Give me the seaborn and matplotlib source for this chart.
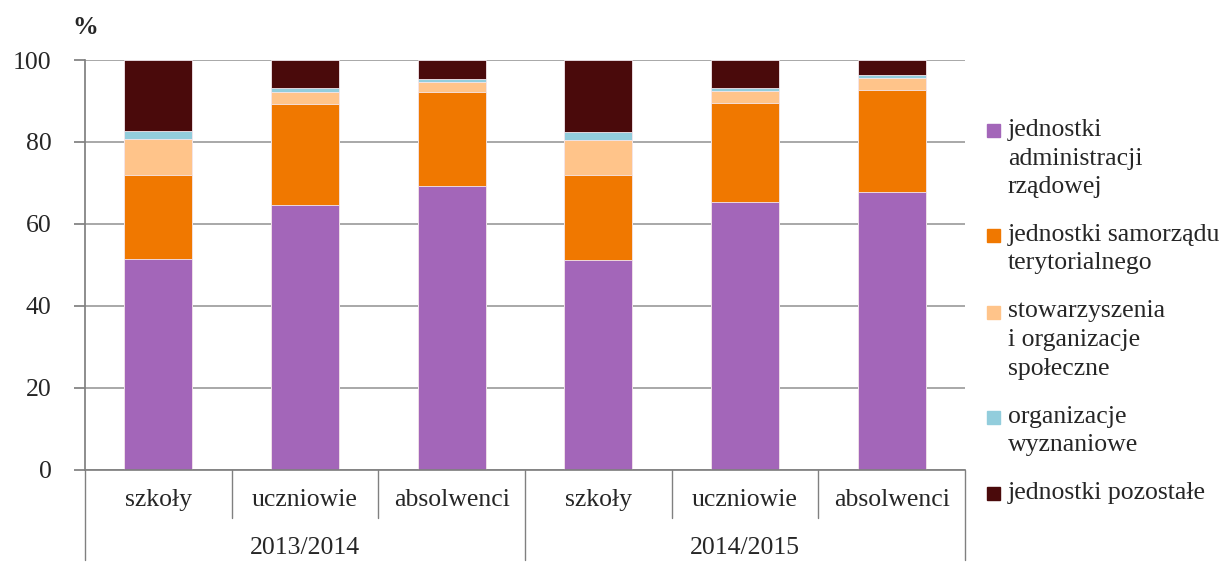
import numpy as np
import pandas as pd
import matplotlib
matplotlib.use("Agg")
import matplotlib.pyplot as plt
import matplotlib.patches as mpatches
import seaborn as sns

years = ["2013/2014", "2014/2015"]
groups = ["szkoły", "uczniowie", "absolwenci"]
series = ["jednostki\nadministracji\nrządowej",
          "jednostki samorządu\nterytorialnego",
          "stowarzyszenia\ni organizacje\nspołeczne",
          "organizacje\nwyznaniowe",
          "jednostki pozostałe"]
colors = ["#A366B9", "#F07800", "#FFC48A", "#92CDDC", "#4A0A0B"]

administracja = [51.5, 64.6, 69.2, 51.2, 65.3, 67.7]
samorzad = [20.5, 24.7, 23.1, 20.7, 24.1, 25.1]
stowarzyszenia = [8.7, 3.0, 2.4, 8.7, 3.0, 2.8]
wyznaniowe = [2.1, 0.8, 0.6, 1.8, 0.8, 0.8]
pozostale = [17.2, 6.9, 4.7, 17.6, 6.8, 3.6]

sns.set_theme(style="white")
plt.rcParams['font.family'] = ['Liberation Serif', 'DejaVu Serif']
fs = 18.5

keys = [y + " " + g for y in years for g in groups]
vals = np.array([administracja, samorzad, stowarzyszenia, wyznaniowe, pozostale])
cum = np.cumsum(vals, axis=0)

W, H = 1227, 562
fig = plt.figure(figsize=(W / 100, H / 100), dpi=100)
ax = fig.add_axes([85 / W, 1 - 470 / H, 880 / W, 410 / H])

for i in range(len(series) - 1, -1, -1):
    df = pd.DataFrame({"kat": keys, "v": cum[i]})
    sns.barplot(data=df, x="kat", y="v", color=colors[i], width=0.465,
                edgecolor="#f4e8ee", linewidth=0.6, saturation=1, ax=ax, order=keys)

ax.set_ylim(0, 100)
ax.set_xlim(-0.5, 5.5)
ax.set_yticks(range(0, 101, 20))
ax.yaxis.grid(True, color="#9a9a9a", linewidth=1.2)
ax.set_axisbelow(True)
for s in ["top", "right"]:
    ax.spines[s].set_visible(False)
ax.spines["left"].set_color("#808080")
ax.spines["bottom"].set_color("#808080")
ax.tick_params(axis="y", left=True, length=8, color="#808080", labelsize=fs, pad=16)
ax.set_xticks([])
ax.set_xlabel("")
ax.set_ylabel("")
ax.text(0, 1.08, "%", transform=ax.transAxes, fontsize=fs, fontweight="bold", ha="center", va="center")

# grouped category axis
tr = ax.get_xaxis_transform()
for b in range(7):
    x = b - 0.5
    low = -0.22 if b % 3 == 0 else -0.117
    ax.plot([x, x], [0, low], transform=tr, color="#808080", lw=1, clip_on=False)
for k, name in enumerate(keys):
    ax.text(k, -0.073, groups[k % 3], transform=tr, ha="center", va="center", fontsize=fs)
for j, y in enumerate(years):
    ax.text(1 + 3 * j, -0.19, y, transform=tr, ha="center", va="center", fontsize=fs)

# legend: marker aligned with first line of each entry
ypix = 130
for c, s in zip(colors, series):
    fig.patches.append(mpatches.Rectangle(((987) / W, 1 - (ypix + 7) / H), 13 / W, 13 / H,
                                          transform=fig.transFigure, color=c))
    for line in s.split("\n"):
        fig.text(1008 / W, 1 - ypix / H, line, ha="left", va="center", fontsize=fs)
        ypix += 28.5
    ypix += 19.5

fig.savefig("out.png", dpi=100)
